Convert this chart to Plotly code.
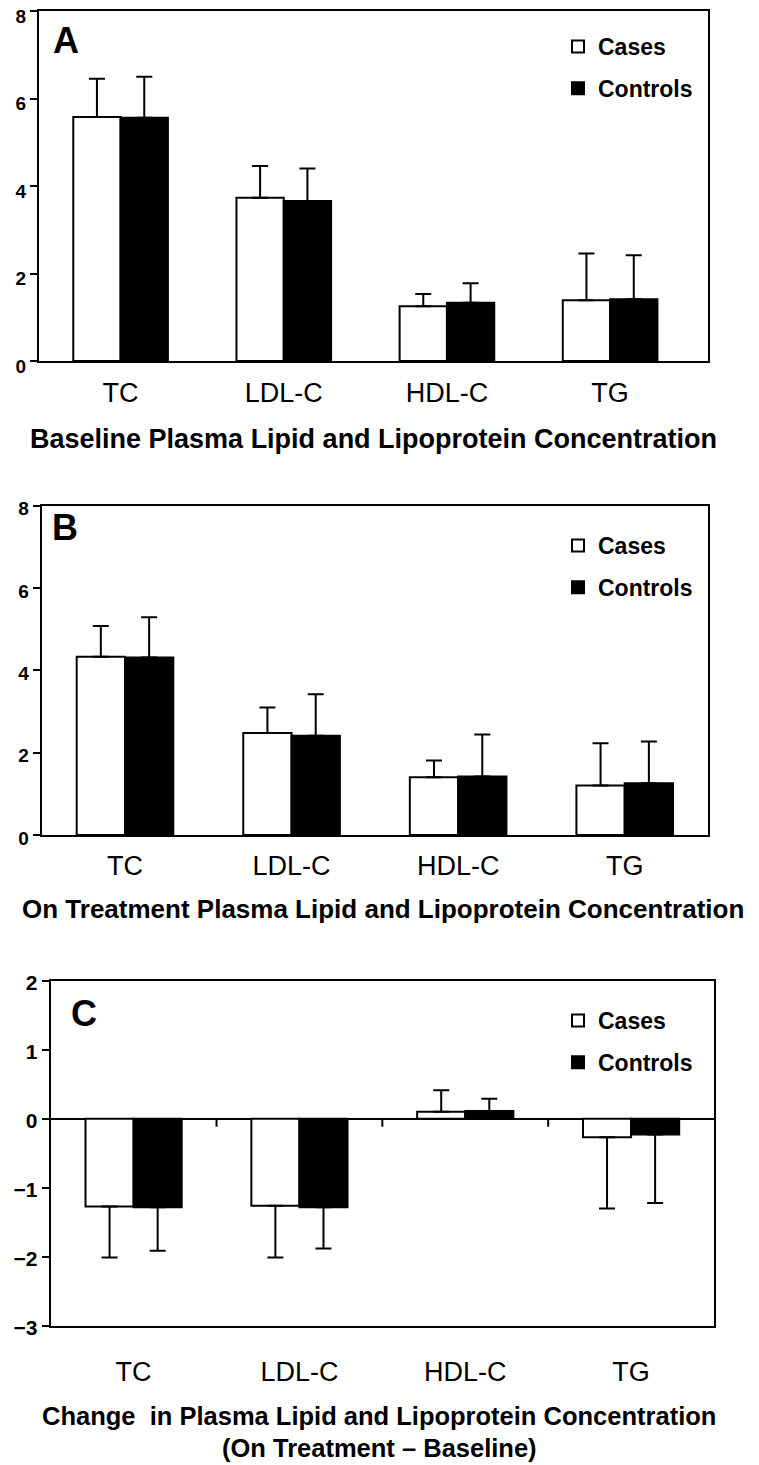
import plotly.graph_objects as go

W, H = 759, 1465
OFF = 8  # the page body adds an 8px margin around the figure

categories = ["TC", "LDL-C", "HDL-C", "TG"]

# A: baseline concentrations (mean, SD)
cases_base = [5.58, 3.73, 1.25, 1.39]
cases_base_sd = [0.87, 0.73, 0.28, 1.07]
controls_base = [5.56, 3.66, 1.33, 1.41]
controls_base_sd = [0.94, 0.74, 0.45, 1.01]

# B: on treatment
cases_treat = [4.33, 2.48, 1.40, 1.20]
cases_treat_sd = [0.75, 0.62, 0.41, 1.03]
controls_treat = [4.31, 2.41, 1.42, 1.26]
controls_treat_sd = [0.98, 1.01, 1.02, 1.01]

# C: change (on treatment - baseline)
cases_change = [-1.27, -1.26, 0.10, -0.27]
cases_change_sd = [0.74, 0.75, 0.31, 1.03]
controls_change = [-1.28, -1.28, 0.11, -0.23]
controls_change_sd = [0.63, 0.60, 0.18, 0.99]

FONT = "Arial, 'Liberation Sans', sans-serif"


def px_x(p):
    return (p - OFF) / W


def px_y(p):
    return 1 - (p - OFF) / H


def one_sided(vals, sd):
    # error bar only points away from zero, like the original
    up = [s if v >= 0 else 0 for v, s in zip(vals, sd)]
    dn = [0 if v >= 0 else s for v, s in zip(vals, sd)]
    return dict(type="data", symmetric=False, array=up, arrayminus=dn,
                color="black", thickness=2, width=8)


panels = [
    ("x", "y", "legend", cases_base, cases_base_sd, controls_base, controls_base_sd),
    ("x2", "y2", "legend2", cases_treat, cases_treat_sd, controls_treat, controls_treat_sd),
    ("x3", "y3", "legend3", cases_change, cases_change_sd, controls_change, controls_change_sd),
]

fig = go.Figure()
for xa, ya, lg, c, csd, k, ksd in panels:
    fig.add_trace(go.Bar(
        x=categories, y=c, name="Cases", xaxis=xa, yaxis=ya, legend=lg, legendgroup=lg + "a",
        marker=dict(color="white", line=dict(color="black", width=2)),
        error_y=one_sided(c, csd)
    ))
    fig.add_trace(go.Bar(
        x=categories, y=k, name="Controls", xaxis=xa, yaxis=ya, legend=lg, legendgroup=lg + "b",
        marker=dict(color="black", line=dict(color="black", width=2)),
        error_y=one_sided(k, ksd)
    ))

xcommon = dict(showline=True, mirror=True, linecolor="black", linewidth=2, ticks="",
               showgrid=False, zeroline=False, automargin=False,
               tickfont=dict(family=FONT, size=27, color="black"))
ycommon = dict(showline=True, mirror=True, linecolor="black", linewidth=2,
               ticks="outside", ticklen=7, tickwidth=2, tickcolor="black", automargin=False,
               ticklabeloverflow="allow",
               showgrid=False, tickfont=dict(family=FONT, size=19, color="black", weight="bold"))

leg = dict(xanchor="left", yanchor="top", bgcolor="rgba(0,0,0,0)", tracegroupgap=9,
           font=dict(family=FONT, size=23, color="black", weight="bold"))

fig.update_layout(
    width=W, height=H,
    margin=dict(l=0, r=0, t=0, b=0, autoexpand=False),
    paper_bgcolor="white", plot_bgcolor="white",
    barmode="group", bargap=0.42, bargroupgap=0,
    xaxis=dict(**xcommon, domain=[px_x(39), px_x(708)], anchor="y", range=[-0.5, 3.6],
               ticklabelstandoff=7),
    yaxis=dict(**ycommon, domain=[px_y(361), px_y(11)], anchor="x", range=[0, 8], dtick=2,
               zeroline=False, ticklabelshift=5),
    xaxis2=dict(**xcommon, domain=[px_x(41.7), px_x(708)], anchor="y2", range=[-0.5, 3.5],
                ticklabelstandoff=6),
    yaxis2=dict(**ycommon, domain=[px_y(835), px_y(505.7)], anchor="x2", range=[0, 8], dtick=2,
                zeroline=False, ticklabelshift=3),
    xaxis3=dict(**xcommon, domain=[px_x(50.7), px_x(714)], anchor="y3", range=[-0.5, 3.5],
                ticklabelstandoff=21),
    yaxis3=dict(**ycommon, domain=[px_y(1326), px_y(980.5)], anchor="x3", range=[-3, 2], dtick=1,
                zeroline=True, zerolinecolor="black", zerolinewidth=2, ticklabelshift=2),
    legend=dict(**leg, x=px_x(558), y=px_y(25)),
    legend2=dict(**leg, x=px_x(558), y=px_y(524)),
    legend3=dict(**leg, x=px_x(558), y=px_y(999)),
)
fig.update_yaxes(tickfont_size=21, selector=dict(anchor="x3"))

# small ticks on the zero line between categories in panel C
for b in [0.5, 1.5, 2.5]:
    fig.add_shape(type="line", xref="x3", yref="y3", x0=b, x1=b,
                  ysizemode="pixel", yanchor=0, y0=0, y1=-8,
                  line=dict(color="black", width=2))
# short stub of the axis below the lower-left corner in A and B
for xr, yr in [("x", "y"), ("x2", "y2")]:
    fig.add_shape(type="line", xref=xr, yref=yr, x0=-0.5, x1=-0.5,
                  ysizemode="pixel", yanchor=0, y0=0, y1=-8,
                  line=dict(color="black", width=2))

title_font = dict(family=FONT, size=27, color="black", weight="bold")
b_font = dict(family=FONT, size=26, color="black", weight="bold")
c_font = dict(family=FONT, size=25.5, color="black", weight="bold")
big = dict(family=FONT, size=36, color="black", weight="bold")
notes = [
    ("A", 51, 40.5, "left", big),
    ("B", 50, 528, "left", big),
    ("C", 69, 1014, "left", big),
    ("Baseline Plasma Lipid and Lipoprotein Concentration", 373, 439, "center", title_font),
    ("On Treatment Plasma Lipid and Lipoprotein Concentration", 383, 909, "center", b_font),
    ("Change  in Plasma Lipid and Lipoprotein Concentration", 379, 1416, "center", c_font),
    ("(On Treatment \u2013 Baseline)", 379, 1448, "center", c_font),
]
for text, x, y, xanchor, font in notes:
    fig.add_annotation(text=text, x=px_x(x), y=px_y(y), xref="paper", yref="paper",
                       xanchor=xanchor, yanchor="middle", showarrow=False, font=font)

fig.write_html("out.html")
